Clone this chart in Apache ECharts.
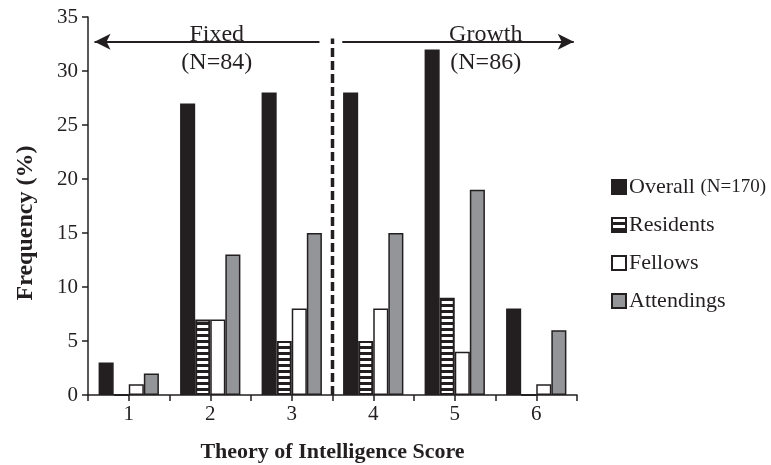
<!DOCTYPE html>
<html>
<head>
<meta charset="utf-8">
<script src="https://cdn.jsdelivr.net/npm/echarts@6/dist/echarts.min.js"></script>
<style>html,body{margin:0;padding:0;background:#fff;}#c{width:771px;height:465px;}</style>
</head>
<body>
<div id="c"></div>
<script>
var categories = ['1','2','3','4','5','6'];
var overall = [3, 27, 28, 28, 32, 8];
var residents = [0, 7, 5, 5, 9, 0];
var fellows = [1, 7, 8, 8, 4, 1];
var attendings = [2, 13, 15, 15, 19, 6];
var yTicks = {min: 0, max: 35, interval: 5};
var divider = 3.5;
var dividerTop = 33;
var arrowY = 32.7;
var leftArrow = [3.34, 0.58];
var rightArrow = [3.62, 6.46];
var groupLabels = [
  {text: 'Fixed\n(N=84)', x: 2.08, y: 32.1},
  {text: 'Growth\n(N=86)', x: 5.38, y: 32.1}
];

var FONT = '"Liberation Serif", "Times New Roman", serif';
var DARK = '#231f20';

var cv = document.createElement('canvas');
cv.width = 4; cv.height = 6;
var cx = cv.getContext('2d');
cx.fillStyle = DARK; cx.fillRect(0, 0, 4, 6);
cx.fillStyle = '#ffffff'; cx.fillRect(0, 1, 4, 3);

var chart = echarts.init(document.getElementById('c'), null, {renderer: 'canvas'});
var barBase = {type: 'bar', xAxisIndex: 0, yAxisIndex: 0, barGap: '0%', barCategoryGap: '26%'};
chart.setOption({
  animation: false,
  textStyle: {fontFamily: FONT},
  grid: {left: 88, right: 194, top: 17, bottom: 70, containLabel: false, outerBoundsMode: 'none'},
  legend: {
    orient: 'vertical', left: 606, top: 171, icon: 'rect',
    itemWidth: 14, itemHeight: 14, itemGap: 16,
    data: ['Overall', 'Residents', 'Fellows', 'Attendings'],
    formatter: function (n) { return n === 'Overall' ? 'Overall {s|(N=170)}' : n; },
    textStyle: {fontFamily: FONT, fontSize: 22, color: DARK, padding: [0,0,0,-2],
      rich: {s: {fontFamily: FONT, fontSize: 19, color: DARK}}}
  },
  xAxis: [{
    type: 'category', data: categories, position: 'bottom',
    axisLine: {lineStyle: {color: DARK, width: 1.5}},
    axisTick: {show: true, alignWithLabel: false, length: 6, lineStyle: {color: DARK, width: 1.5}},
    axisLabel: {fontFamily: FONT, fontSize: 21, color: DARK, margin: 9},
    name: 'Theory of Intelligence Score', nameLocation: 'middle', nameGap: 46,
    nameTextStyle: {fontFamily: FONT, fontSize: 22, fontWeight: 'bold', color: DARK}
  }, {
    type: 'category', data: categories, position: 'bottom',
    axisLine: {show: false},
    axisTick: {show: true, alignWithLabel: true, length: 6, lineStyle: {color: DARK, width: 1.5}},
    axisLabel: {show: false}, splitLine: {show: false}
  }, {
    type: 'value', min: 0.5, max: 6.5, show: false
  }],
  yAxis: {
    type: 'value', min: yTicks.min, max: yTicks.max, interval: yTicks.interval,
    axisLine: {show: true, lineStyle: {color: DARK, width: 1.5}},
    axisTick: {show: true, length: 6, lineStyle: {color: DARK, width: 1.5}},
    splitLine: {show: false},
    axisLabel: {fontFamily: FONT, fontSize: 21, color: DARK, margin: 10},
    name: 'Frequency (%)', nameLocation: 'middle', nameGap: 50, nameRotate: 90,
    nameTextStyle: {fontFamily: FONT, fontSize: 24, fontWeight: 'bold', color: DARK, padding: [0, 34, 0, 0]}
  },
  series: [
    Object.assign({name: 'Overall', data: overall, itemStyle: {color: DARK, borderColor: DARK, borderWidth: 1.5}}, barBase),
    Object.assign({name: 'Residents', data: residents, itemStyle: {color: {image: cv, repeat: 'repeat'}, borderColor: DARK, borderWidth: 2}}, barBase),
    Object.assign({name: 'Fellows', data: fellows, itemStyle: {color: '#ffffff', borderColor: DARK, borderWidth: 1.5}}, barBase),
    Object.assign({name: 'Attendings', data: attendings, itemStyle: {color: '#939598', borderColor: DARK, borderWidth: 1.5}}, barBase),
    {
      type: 'line', name: 'divider', xAxisIndex: 2, yAxisIndex: 0,
      data: [[divider, 0], [divider, dividerTop]], symbol: 'none', silent: true,
      lineStyle: {color: DARK, width: 3.5, type: [9, 4]},
      markLine: {
        silent: true, symbolSize: [12, 16],
        lineStyle: {color: DARK, width: 2, type: 'solid'},
        label: {show: false},
        data: [
          [{coord: [leftArrow[0], arrowY], symbol: 'none'}, {coord: [leftArrow[1], arrowY], symbol: 'arrow'}],
          [{coord: [rightArrow[0], arrowY], symbol: 'none'}, {coord: [rightArrow[1], arrowY], symbol: 'arrow'}]
        ]
      },
      markPoint: {
        silent: true, symbol: 'rect', symbolSize: 1,
        itemStyle: {color: 'rgba(0,0,0,0)'},
        label: {show: true, position: 'inside', fontFamily: FONT, fontSize: 24, color: DARK, lineHeight: 28, align: 'center'},
        data: groupLabels.map(function (g) { return {coord: [g.x, g.y], value: g.text, label: {formatter: g.text}}; })
      }
    }
  ]
});
</script>
</body>
</html>
